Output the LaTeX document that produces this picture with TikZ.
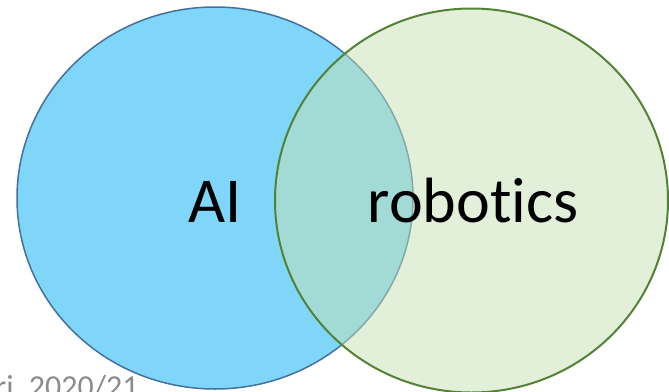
\documentclass[tikz,border=0pt]{standalone}
\usepackage{fontspec}
\setmainfont{Carlito}[Ligatures={NoCommon}]
\definecolor{aifill}{HTML}{80D6F9}
\definecolor{aiedge}{HTML}{41719C}
\definecolor{robfill}{HTML}{C5E0B4}
\definecolor{robedge}{HTML}{548235}
\definecolor{footgray}{HTML}{8C8C8C}
\tikzset{
  setlabel/.style={font=\fontsize{64}{64}\selectfont, text=black, inner sep=0pt, anchor=base},
  footer/.style={font=\fontsize{32}{32}\selectfont, text=footgray, inner sep=0pt, anchor=base west}
}
\begin{document}
\begin{tikzpicture}[x=1pt,y=-1pt]
  \useasboundingbox (0,0) rectangle (669,391);
  \begin{scope}
    \clip (0,0) rectangle (669,391);
    % AI set
    \fill[aifill] (215,198) ellipse [x radius=198, y radius=191];
    \draw[aiedge, line width=1.5pt] (215,198) ellipse [x radius=198, y radius=191];
    % robotics set, translucent so the overlap shows through
    \fill[robfill, fill opacity=0.5] (471.5,200.5) ellipse [x radius=196.5, y radius=192];
    \draw[robedge, line width=2pt] (471.5,200.5) ellipse [x radius=196.5, y radius=192];
    % footer
    \node[footer] (foot) at (-5,397) {ri, 2020/21};
  \end{scope}
  \node[setlabel] (ai) at (215.5,222) {AI};
  \node[setlabel] (rob) at (473,222) {robotics};
\end{tikzpicture}
\end{document}
